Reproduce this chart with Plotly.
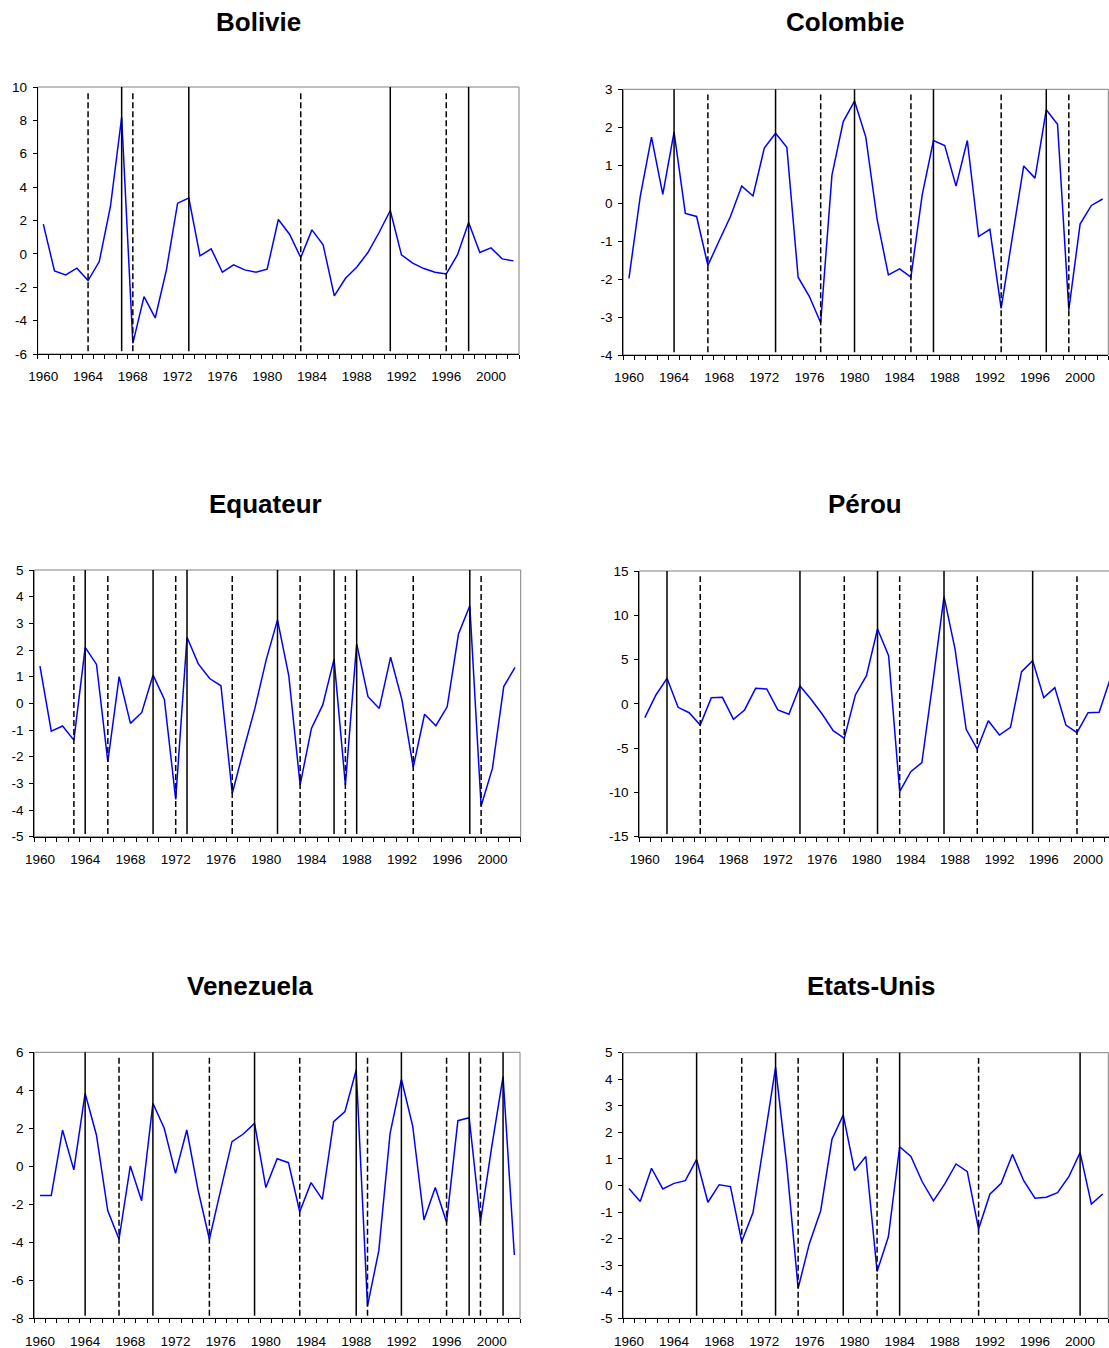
import plotly.graph_objects as go

years = list(range(1960, 2003))
x_tick_labels = ["1960", "1964", "1968", "1972", "1976", "1980", "1984", "1988", "1992", "1996", "2000"]

bolivie = [1.78, -1.02, -1.26, -0.86, -1.6, -0.46, 2.84, 8.18, -5.36, -2.56, -3.84, -0.96, 3.04, 3.34,
           -0.12, 0.3, -1.1, -0.66, -0.96, -1.1, -0.92, 2.06, 1.18, -0.22, 1.44, 0.54, -2.52, -1.46,
           -0.8, 0.08, 1.28, 2.6, -0.06, -0.56, -0.88, -1.1, -1.2, -0.06, 1.88, 0.08, 0.36, -0.3, -0.42]
bolivie_solid = [1967, 1973, 1991, 1998]
bolivie_dashed = [1964, 1968, 1983, 1996]
bolivie_yticks = ["-6", "-4", "-2", "0", "2", "4", "6", "8", "10"]

colombie = [-1.98, 0.17, 1.74, 0.23, 1.87, -0.27, -0.35, -1.64, -0.99, -0.35, 0.45, 0.19, 1.45, 1.84,
            1.47, -1.95, -2.46, -3.15, 0.74, 2.15, 2.69, 1.74, -0.42, -1.89, -1.73, -1.95, 0.22, 1.65,
            1.52, 0.45, 1.65, -0.88, -0.69, -2.77, -0.88, 0.98, 0.66, 2.46, 2.08, -2.81, -0.55, -0.06, 0.11]
colombie_solid = [1964, 1973, 1980, 1987, 1997]
colombie_dashed = [1967, 1977, 1985, 1993, 1999]
colombie_yticks = ["-4", "-3", "-2", "-1", "0", "1", "2", "3"]

equateur = [1.4, -1.04, -0.85, -1.38, 2.1, 1.46, -2.19, 1.0, -0.75, -0.34, 1.06, 0.15, -3.6, 2.48,
            1.48, 0.93, 0.66, -3.38, -1.75, -0.19, 1.63, 3.13, 1.03, -3.06, -0.94, -0.06, 1.66, -3.06,
            2.23, 0.25, -0.19, 1.73, 0.13, -2.4, -0.41, -0.84, -0.13, 2.6, 3.66, -3.85, -2.44, 0.63, 1.35]
equateur_solid = [1964, 1970, 1973, 1981, 1986, 1988, 1998]
equateur_dashed = [1963, 1966, 1972, 1977, 1983, 1987, 1993, 1999]
equateur_yticks = ["-5", "-4", "-3", "-2", "-1", "0", "1", "2", "3", "4", "5"]

perou = [-1.56, 1.0, 2.88, -0.39, -1.0, -2.39, 0.7, 0.74, -1.75, -0.69, 1.75, 1.68, -0.69, -1.18,
         2.02, 0.51, -1.15, -3.03, -3.9, 1.0, 3.18, 8.45, 5.44, -9.92, -7.66, -6.64, 2.5, 12.1,
         6.16, -2.88, -5.1, -1.9, -3.52, -2.65, 3.63, 4.88, 0.7, 1.83, -2.39, -3.26, -1.0, -0.96, 2.8]
perou_solid = [1962, 1974, 1981, 1987, 1995]
perou_dashed = [1965, 1978, 1983, 1990, 1999]
perou_yticks = ["-15", "-10", "-5", "0", "5", "10", "15"]

venezuela = [-1.54, -1.54, 1.91, -0.19, 3.84, 1.65, -2.33, -3.84, 0.02, -1.81, 3.32, 2.0, -0.37, 1.91,
             -1.25, -3.84, -1.25, 1.3, 1.7, 2.26, -1.12, 0.4, 0.19, -2.39, -0.86, -1.74, 2.35, 2.88,
             5.07, -7.35, -4.44, 1.74, 4.58, 2.12, -2.82, -1.12, -2.95, 2.4, 2.56, -2.91, 1.04, 4.72, -4.67]
venezuela_solid = [1964, 1970, 1979, 1988, 1992, 1998, 2001]
venezuela_dashed = [1967, 1975, 1983, 1989, 1996, 1999]
venezuela_yticks = ["-8", "-6", "-4", "-2", "0", "2", "4", "6"]

etats_unis = [-0.11, -0.6, 0.65, -0.13, 0.08, 0.18, 0.98, -0.63, 0.03, -0.04, -2.11, -1.02, 1.71, 4.45,
              0.73, -3.87, -2.18, -0.95, 1.74, 2.65, 0.56, 1.09, -3.24, -1.93, 1.46, 1.09, 0.14, -0.58,
              0.06, 0.81, 0.52, -1.64, -0.33, 0.08, 1.17, 0.18, -0.48, -0.44, -0.27, 0.33, 1.24, -0.7, -0.32]
etats_unis_solid = [1966, 1973, 1979, 1984, 2000]
etats_unis_dashed = [1970, 1975, 1982, 1991]
etats_unis_yticks = ["-5", "-4", "-3", "-2", "-1", "0", "1", "2", "3", "4", "5"]

W, H = 1109, 1348

panels = [
    dict(title="Bolivie", y=bolivie, solid=bolivie_solid, dashed=bolivie_dashed, yt=bolivie_yticks,
         px=(37.7, 519), py=(87, 354), xend=2002.5, tpos=(258.5, 22)),
    dict(title="Colombie", y=colombie, solid=colombie_solid, dashed=colombie_dashed, yt=colombie_yticks,
         px=(623.3, 1108.3), py=(89.3, 355), xend=2002.5, tpos=(844.5, 22)),
    dict(title="Equateur", y=equateur, solid=equateur_solid, dashed=equateur_dashed, yt=equateur_yticks,
         px=(34.3, 520.7), py=(570, 836.7), xend=2002.5, tpos=(265, 504)),
    dict(title="Pérou", y=perou, solid=perou_solid, dashed=perou_dashed, yt=perou_yticks,
         px=(639.3, 1109), py=(571, 836.7), xend=2001.89, tpos=(864.5, 504)),
    dict(title="Venezuela", y=venezuela, solid=venezuela_solid, dashed=venezuela_dashed, yt=venezuela_yticks,
         px=(34.3, 520), py=(1052.3, 1318.3), xend=2002.5, tpos=(250, 986)),
    dict(title="Etats-Unis", y=etats_unis, solid=etats_unis_solid, dashed=etats_unis_dashed, yt=etats_unis_yticks,
         px=(623.3, 1108.3), py=(1052.7, 1318.3), xend=2002.5, tpos=(871, 986)),
]

FONT = "Liberation Sans, Arial, sans-serif"
fig = go.Figure()
shapes = []
annotations = []
layout = {}

for i, p in enumerate(panels):
    n = "" if i == 0 else str(i + 1)
    xa, ya = "x" + n, "y" + n
    fig.add_trace(go.Scatter(x=years, y=p["y"], mode="lines", xaxis=xa, yaxis=ya,
                             line=dict(color="#0000FF", width=1.5), showlegend=False,
                             hoverinfo="x+y"))
    yvals = [float(t) for t in p["yt"]]
    xvals = [int(t) for t in x_tick_labels]
    xd = [p["px"][0] / W, min(p["px"][1] / W, 1.0)]
    yd = [1 - p["py"][1] / H, 1 - p["py"][0] / H]
    layout["xaxis" + n] = dict(
        domain=xd, anchor=ya, range=[1959.5, p["xend"]], automargin=False,
        tickmode="array", tickvals=xvals, ticktext=x_tick_labels, ticks="", ticklabelstandoff=10,
        minor=dict(ticks="outside", tick0=1959.5, dtick=1, ticklen=4, tickcolor="black", tickwidth=1),
        showline=True, linecolor="black", linewidth=1, mirror=False,
        showgrid=False, zeroline=False,
        tickfont=dict(family=FONT, size=13.5, color="black"))
    layout["yaxis" + n] = dict(
        domain=yd, anchor=xa, range=[yvals[0], yvals[-1]], automargin=False,
        tickmode="array", tickvals=yvals, ticktext=p["yt"], ticks="outside", ticklen=4,
        tickcolor="black", ticklabelstandoff=3,
        showline=True, linecolor="black", linewidth=1, mirror=False,
        showgrid=False, zeroline=False,
        tickfont=dict(family=FONT, size=13.5, color="black"))
    shapes.append(dict(type="rect", xref=xa + " domain", yref=ya + " domain",
                       x0=0, x1=1 if p["xend"] > 2002 else 1.05, y0=0, y1=1,
                       line=dict(color="#808080", width=1), layer="below"))
    for yr_ in p["solid"]:
        shapes.append(dict(type="line", xref=xa, yref=ya + " domain", x0=yr_, x1=yr_, y0=0.01, y1=1.0,
                           line=dict(color="black", width=1.5)))
    for yr_ in p["dashed"]:
        shapes.append(dict(type="line", xref=xa, yref=ya + " domain", x0=yr_, x1=yr_, y0=0.01, y1=0.98,
                           line=dict(color="black", width=1.5, dash="6px,3px")))
    annotations.append(dict(text="<b>%s</b>" % p["title"], xref="paper", yref="paper",
                            x=p["tpos"][0] / W, y=1 - p["tpos"][1] / H, xanchor="center", yanchor="middle",
                            showarrow=False, font=dict(family=FONT, size=26, color="black")))

fig.update_layout(width=W, height=H, margin=dict(l=0, r=0, t=0, b=0, autoexpand=False),
                  paper_bgcolor="white", plot_bgcolor="white",
                  shapes=shapes, annotations=annotations, **layout)

fig.write_html("out.html", config={"displayModeBar": False},
               post_script="document.body.style.margin='0';document.body.style.overflow='hidden';")
